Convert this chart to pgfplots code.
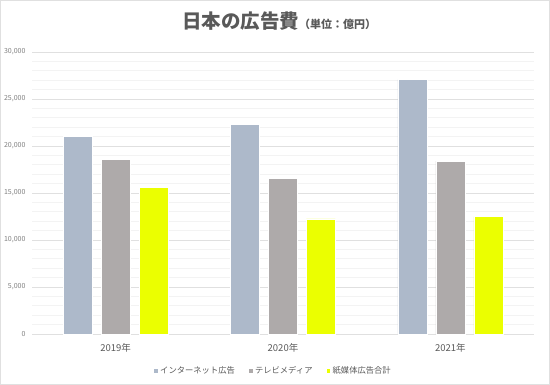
\documentclass[border=0pt]{standalone}
\usepackage{fontspec}
\setmainfont{Noto Sans CJK JP}
\usepackage{pgfplots}
\pgfplotsset{compat=1.18}
\definecolor{inet}{HTML}{ADB9CA}
\definecolor{tv}{HTML}{AEAAAA}
\definecolor{paper}{HTML}{EBFF00}
\definecolor{txt}{HTML}{595959}
\definecolor{ticktxt}{HTML}{7F7F7F}
\definecolor{majgrid}{HTML}{E0E0E0}
\definecolor{mingrid}{HTML}{F3F3F3}
\begin{document}
\begin{tikzpicture}[x=1pt,y=1pt]
\begin{pgfinterruptboundingbox}
\begin{axis}[
  scale only axis, width=502pt, height=282pt,
  ybar=9pt, bar width=29pt,
  xmin=-0.5, xmax=2.5, ymin=0, ymax=30000,
  xtick={0,1,2}, xticklabels={2019年,2020年,2021年},
  ytick={0,5000,...,30000}, minor y tick num=4,
  ymajorgrids, yminorgrids,
  major grid style={color=majgrid, line width=0.6pt},
  minor grid style={color=mingrid, line width=0.6pt},
  axis line style={draw=none},
  major tick length=0pt, minor tick length=0pt,
  scaled y ticks=false,
  /pgf/number format/assume math mode=true,
  /pgf/number format/1000 sep={,},
  y tick label style={font=\fontsize{7}{7}\selectfont, text=ticktxt, xshift=-3pt},
  x tick label style={font=\fontsize{9.5}{9.5}\selectfont, text=txt, yshift=-6pt},
  legend columns=3,
  legend style={draw=none, at={(0.48,-0.131)}, anchor=center,
    font=\fontsize{8.3}{8.3}\selectfont, text=txt,
    /tikz/every even column/.append style={column sep=11pt}},
  legend image code/.code={\fill[#1] (0pt,-2.3pt) rectangle (4.6pt,2.3pt);},
  clip=false,
]
\addplot[fill=inet, draw=white, line width=0.5pt] coordinates {(0,21048) (1,22290) (2,27052)};
\addplot[fill=tv, draw=white, line width=0.5pt] coordinates {(0,18612) (1,16525) (2,18393)};
\addplot[fill=paper, draw=white, line width=0.5pt] coordinates {(0,15560) (1,12234) (2,12480)};
\legend{インターネット広告,テレビメディア,紙媒体広告合計}
\end{axis}
\end{pgfinterruptboundingbox}
\path (current axis.south west) ++(-32,-51) coordinate (O);
\useasboundingbox (O) rectangle ++(550,385);
\begin{scope}[shift={(O)}]
\draw[color=majgrid, line width=0.8pt] (0.5,0.5) rectangle (549.5,384.5);
\node[text=txt, anchor=base west, inner sep=0pt] at (182,356) {\fontsize{19.5}{19.5}\selectfont\bfseries 日本の広告費\fontsize{11}{11}\selectfont（単位：億円）};
\end{scope}
\end{tikzpicture}
\end{document}
